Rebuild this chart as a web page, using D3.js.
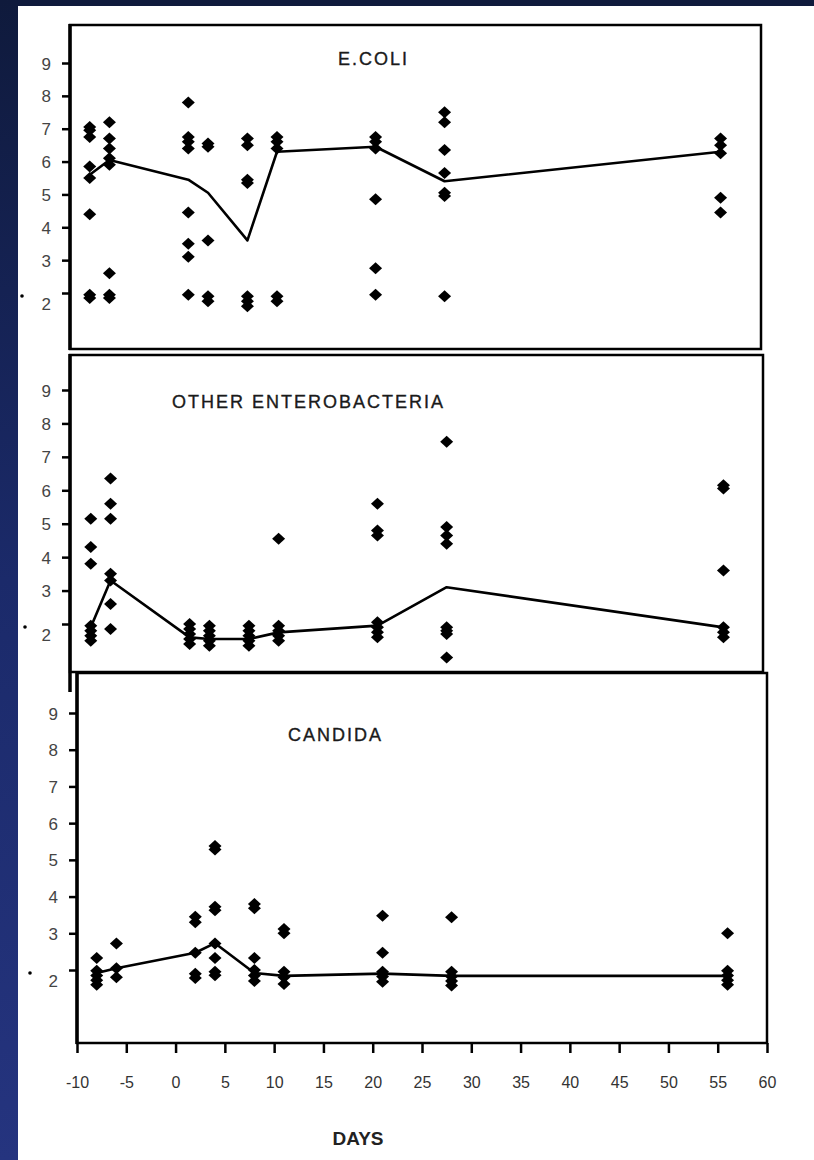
<!DOCTYPE html>
<html>
<head>
<meta charset="utf-8">
<script src="https://cdn.jsdelivr.net/npm/d3@7"></script>
<style>
  html, body { margin: 0; padding: 0; background: #ffffff; }
  svg { display: block; }
</style>
</head>
<body>
<script>
// ---------- DATA ----------
const days = [-8, -6, 2, 4, 8, 11, 21, 28, 56];
const xTicks = d3.range(-10, 61, 5);
const yTicks = [2, 3, 4, 5, 6, 7, 8, 9];

const titles = ["E.COLI", "OTHER ENTEROBACTERIA", "CANDIDA"];

// individual log counts per sampling day (aligned with `days`)
const ecoliValues = [
  [7.05, 6.95, 6.75, 5.85, 5.5, 4.4, 1.95, 1.85],
  [7.2, 6.7, 6.4, 6.1, 5.9, 2.6, 1.95, 1.85],
  [7.8, 6.75, 6.6, 6.4, 4.45, 3.5, 3.1, 1.95],
  [6.55, 6.45, 3.6, 1.9, 1.75],
  [6.7, 6.5, 5.45, 5.35, 1.9, 1.75, 1.6],
  [6.75, 6.6, 6.4, 1.9, 1.75],
  [6.75, 6.6, 6.4, 4.85, 2.75, 1.95],
  [7.5, 7.2, 6.35, 5.65, 5.05, 4.95, 1.9],
  [6.7, 6.5, 6.25, 4.9, 4.45]
];
const ecoliMean = [5.6, 6.05, 5.45, 5.05, 3.6, 6.3, 6.45, 5.4, 6.3];

const enteroValues = [
  [5.15, 4.3, 3.8, 1.95, 1.8, 1.65, 1.5],
  [6.35, 5.6, 5.15, 3.5, 3.3, 2.6, 1.85],
  [2.0, 1.85, 1.7, 1.55, 1.4],
  [1.95, 1.8, 1.65, 1.5, 1.35],
  [1.95, 1.8, 1.65, 1.5, 1.35],
  [4.55, 1.95, 1.8, 1.65, 1.5],
  [5.6, 4.8, 4.65, 2.05, 1.9, 1.75, 1.6],
  [7.45, 4.9, 4.65, 4.4, 1.9, 1.8, 1.7, 1.0],
  [6.15, 6.05, 3.6, 1.9, 1.75, 1.6]
];
const enteroMean = [1.9, 3.3, 1.6, 1.55, 1.55, 1.75, 1.95, 3.1, 1.9];

const candidaValues = [
  [2.33, 1.98, 1.85, 1.72, 1.6],
  [2.72, 2.05, 1.8],
  [3.45, 3.3, 2.47, 1.9, 1.78],
  [5.38, 5.28, 3.72, 3.63, 2.72, 2.33, 1.95, 1.86],
  [3.8, 3.68, 2.33, 2.0, 1.85, 1.7],
  [3.12, 3.0, 1.95, 1.8, 1.62],
  [3.48, 2.47, 1.95, 1.82, 1.68],
  [3.44, 1.95, 1.82, 1.7, 1.58],
  [3.0, 1.98, 1.85, 1.72, 1.6]
];
const candidaMean = [1.92, 2.05, 2.47, 2.73, 1.92, 1.84, 1.9, 1.84, 1.84];

const xLabel = "DAYS";

// ---------- LAYOUT ----------
const W = 814, H = 1160;
const panels = [
  { title: titles[0], values: ecoliValues, mean: ecoliMean,
    left: 70, right: 761, top: 25, bottom: 349, xr: [70, 760], yr: [293, 63],
    tx: 338, ty: 65, dotX: 22 },
  { title: titles[1], values: enteroValues, mean: enteroMean,
    left: 70, right: 763, top: 355, bottom: 672, xr: [71, 763], yr: [624, 390],
    tx: 172, ty: 408, dotX: 25 },
  { title: titles[2], values: candidaValues, mean: candidaMean,
    left: 77, right: 767, top: 673, bottom: 1043, xr: [77, 767], yr: [970, 713],
    tx: 288, ty: 741, dotX: 30 }
];

const svg = d3.select("body").append("svg")
  .attr("width", W).attr("height", H);

// background
const defs = svg.append("defs");
const grad = defs.append("linearGradient").attr("id", "sideGrad")
  .attr("x1", 0).attr("y1", 0).attr("x2", 0).attr("y2", 1);
grad.append("stop").attr("offset", "0%").attr("stop-color", "#0f1a3c");
grad.append("stop").attr("offset", "50%").attr("stop-color", "#1b2a6a");
grad.append("stop").attr("offset", "100%").attr("stop-color", "#25347f");

svg.append("rect").attr("width", W).attr("height", H).attr("fill", "#ffffff");
svg.append("rect").attr("x", 0).attr("y", 0).attr("width", W).attr("height", 6).attr("fill", "#0f1a3c");
svg.append("rect").attr("x", 0).attr("y", 0).attr("width", 18).attr("height", H).attr("fill", "url(#sideGrad)");

const diamond = "M0,-6L6.5,0L0,6L-6.5,0Z";
const fmt = d => String(d);

panels.forEach((p, i) => {
  const x = d3.scaleLinear().domain([-10, 60]).range(p.xr);
  const y = d3.scaleLinear().domain([2, 9]).range(p.yr);
  const g = svg.append("g");

  // frame
  g.append("rect")
    .attr("x", p.left).attr("y", p.top)
    .attr("width", p.right - p.left).attr("height", p.bottom - p.top)
    .attr("fill", "none").attr("stroke", "#000").attr("stroke-width", 2.5);
  // thicker left axis line
  g.append("line")
    .attr("x1", p.left).attr("x2", p.left)
    .attr("y1", p.top - 1).attr("y2", i === 1 ? p.bottom + 20 : p.bottom + 1)
    .attr("stroke", "#000").attr("stroke-width", 3.5);

  // y axis
  const ax = g.append("g")
    .attr("transform", `translate(${p.left},0)`)
    .call(d3.axisLeft(y).tickValues(yTicks).tickSize(8).tickPadding(11).tickFormat(fmt));
  ax.select(".domain").remove();
  ax.selectAll(".tick line").attr("stroke", "#000").attr("stroke-width", 2.5);
  ax.selectAll(".tick text")
    .attr("fill", "#444")
    .style("font-family", "'Liberation Sans', Arial, sans-serif")
    .style("font-size", "17px")
    .attr("dy", d => d === 2 ? "0.95em" : "0.36em");

  // small dot near the "2" label
  g.append("circle").attr("cx", p.dotX).attr("cy", y(2) + 3).attr("r", 1.8).attr("fill", "#000");

  // title
  g.append("text")
    .attr("x", p.tx).attr("y", p.ty)
    .attr("fill", "#1a1a1a")
    .attr("stroke", "#1a1a1a").attr("stroke-width", 0.35)
    .style("font-family", "'Liberation Sans', Arial, sans-serif")
    .style("font-size", "18px")
    .style("letter-spacing", "2px")
    .text(p.title);

  // mean line
  const lineData = days.map((d, k) => [d, p.mean[k]]);
  g.append("path")
    .datum(lineData)
    .attr("fill", "none").attr("stroke", "#000").attr("stroke-width", 2.6)
    .attr("stroke-linejoin", "round")
    .attr("d", d3.line().x(d => x(d[0])).y(d => y(d[1])));

  // points
  const pts = [];
  days.forEach((d, k) => p.values[k].forEach(v => pts.push([d, v])));
  g.append("g").selectAll("path")
    .data(pts).join("path")
    .attr("d", diamond)
    .attr("transform", d => `translate(${x(d[0])},${y(d[1])})`)
    .attr("fill", "#000");

  // x axis only on the bottom panel
  if (i === 2) {
    const xa = g.append("g")
      .attr("transform", `translate(0,${p.bottom})`)
      .call(d3.axisBottom(x).tickValues(xTicks).tickSize(10).tickPadding(24).tickFormat(fmt));
    xa.select(".domain").remove();
    xa.selectAll(".tick line").attr("stroke", "#000").attr("stroke-width", 2.5);
    xa.selectAll(".tick text")
      .attr("fill", "#333")
      .style("font-family", "'Liberation Sans', Arial, sans-serif")
      .style("font-size", "16px");
    g.append("text")
      .attr("x", 358).attr("y", 1145)
      .attr("text-anchor", "middle")
      .attr("fill", "#222")
      .style("font-family", "'Liberation Sans', Arial, sans-serif")
      .style("font-weight", "bold")
      .style("font-size", "19px")
      .text(xLabel);
  }
});
</script>
</body>
</html>
